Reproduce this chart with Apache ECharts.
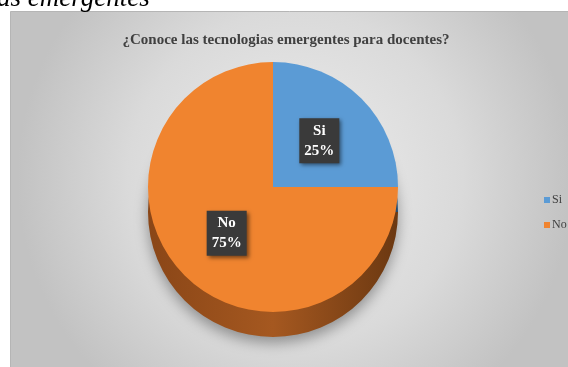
<!DOCTYPE html>
<html>
<head>
<meta charset="utf-8">
<style>
html,body{margin:0;padding:0;background:#fff;}
#c{width:568px;height:367px;}
</style>
<script src="https://cdn.jsdelivr.net/npm/echarts@6/dist/echarts.min.js"></script>
</head>
<body>
<div id="c"></div>
<script>
const categories = ['Si', 'No'];
const values = [25, 75];
const titleText = '¿Conoce las tecnologias emergentes para docentes?';
const captionText = 'as emergentes';

const topColors = ['#5b9bd5', '#f0842f'];
const sideColors = [
  new echarts.graphic.LinearGradient(0, 0, 1, 0, [{offset:0,color:'#2f5f8c'},{offset:1,color:'#244c72'}]),
  new echarts.graphic.LinearGradient(0, 0, 1, 0, [{offset:0,color:'#8a4617'},{offset:0.5,color:'#a55820'},{offset:1,color:'#6b3811'}])
];

const chart = echarts.init(document.getElementById('c'), null, {renderer:'canvas'});
const cx = 273, cy = 187, r = 125, depth = 25;

chart.setOption({
  animation: false,
  graphic: [
    {type:'rect', z:-10, shape:{x:10.5,y:11.5,width:570,height:370},
     style:{fill:new echarts.graphic.RadialGradient(0.5,0.45,0.75,[{offset:0,color:'#ededed'},{offset:0.6,color:'#dadada'},{offset:1,color:'#c2c2c2'}]),
            stroke:'#b5b5b5', lineWidth:1}},
    {type:'text', z:-5, left:-3, top:-15,
     style:{text:captionText, fontFamily:'Liberation Serif', fontStyle:'italic', fontSize:27, fill:'#000'}}
  ],
  title: {
    text: titleText, left: 281, top: 28, textAlign:'center',
    textStyle: {fontFamily:'Liberation Serif', fontWeight:'bold', fontSize:15, color:'#404040'}
  },
  legend: {
    orient:'vertical', left:539, top:189, itemWidth:6, itemHeight:6, itemGap:13,
    icon:'rect',
    data: categories.map((c,i)=>({name:c, itemStyle:{color:topColors[i]}})),
    textStyle:{fontFamily:'Liberation Serif', fontSize:12, color:'#404040', padding:[0,0,0,-3]}
  },
  series: [
    {
      type:'pie', center:[cx, cy], radius:r, startAngle:90, z:2,
      label:{
        show:true, position:'inside', formatter:'{b}\n{d}%',
        fontFamily:'Liberation Serif', fontWeight:'bold', fontSize:15, lineHeight:20, color:'#fff',
        backgroundColor:'#3a3a3a', padding:[3,5,2,5],
        shadowBlur:4, shadowColor:'rgba(0,0,0,0.5)', shadowOffsetX:2, shadowOffsetY:2
      },
      labelLine:{show:false},
      itemStyle:{borderWidth:0},
      data: categories.map((c,i)=>({name:c, value:values[i], itemStyle:{color:topColors[i]}}))
    },
    {
      type:'pie', center:[cx, cy + depth], radius:r, startAngle:90, silent:true,
      label:{show:false}, labelLine:{show:false}, z:1,
      itemStyle:{shadowBlur:14, shadowColor:'rgba(0,0,0,0.35)', shadowOffsetY:6},
      data: categories.map((c,i)=>({name:c, value:values[i], itemStyle:{color:sideColors[i]}})),
      legendHoverLink:false
    }
  ]
});
</script>
</body>
</html>
